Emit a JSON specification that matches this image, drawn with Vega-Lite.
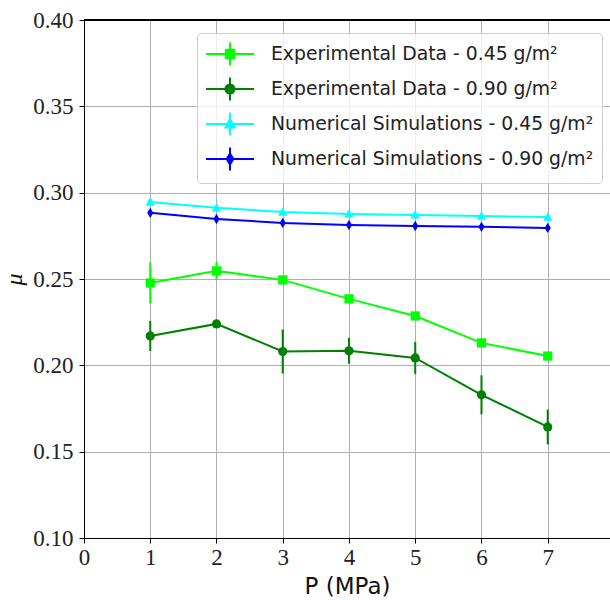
{
  "$schema": "https://vega.github.io/schema/vega-lite/v6.json",
  "autosize": {"type": "none"},
  "padding": {"left": 84, "top": 20, "right": 0, "bottom": 62},
  "width": 526,
  "height": 518,
  "background": "white",
  "config": {
    "view": {"stroke": null},
    "axis": {
      "domainColor": "black",
      "domainWidth": 1,
      "tickColor": "black",
      "tickSize": 5,
      "tickWidth": 1,
      "gridColor": "#b0b0b0",
      "gridWidth": 1,
      "labelFont": "Liberation Serif",
      "labelFontSize": 23,
      "labelColor": "#222",
      "titleColor": "#111",
      "titleFontWeight": "normal"
    },
    "legend": {
      "symbolSize": 576,
      "symbolStrokeWidth": 2,
      "labelFont": "DejaVu Sans",
      "labelFontSize": 18.8,
      "labelColor": "#222",
      "labelOffset": 40,
      "labelLimit": 400,
      "rowPadding": 3,
      "padding": 8,
      "strokeColor": "#cccccc",
      "cornerRadius": 4,
      "fillColor": "rgba(255,255,255,0.8)"
    }
  },
  "data": {
    "values": [
      {"P": 1, "mu": 0.2477, "err": 0.0119, "s": "Experimental Data - 0.45 g/m²"},
      {"P": 2, "mu": 0.2547, "err": 0.0052, "s": "Experimental Data - 0.45 g/m²"},
      {"P": 3, "mu": 0.2495, "err": 0.0, "s": "Experimental Data - 0.45 g/m²"},
      {"P": 4, "mu": 0.2385, "err": 0.0, "s": "Experimental Data - 0.45 g/m²"},
      {"P": 5, "mu": 0.2286, "err": 0.0, "s": "Experimental Data - 0.45 g/m²"},
      {"P": 6, "mu": 0.2130, "err": 0.0, "s": "Experimental Data - 0.45 g/m²"},
      {"P": 7, "mu": 0.2054, "err": 0.0, "s": "Experimental Data - 0.45 g/m²"},
      {"P": 1, "mu": 0.2170, "err": 0.0087, "s": "Experimental Data - 0.90 g/m²"},
      {"P": 2, "mu": 0.2240, "err": 0.002, "s": "Experimental Data - 0.90 g/m²"},
      {"P": 3, "mu": 0.2080, "err": 0.0127, "s": "Experimental Data - 0.90 g/m²"},
      {"P": 4, "mu": 0.2084, "err": 0.0075, "s": "Experimental Data - 0.90 g/m²"},
      {"P": 5, "mu": 0.2043, "err": 0.0093, "s": "Experimental Data - 0.90 g/m²"},
      {"P": 6, "mu": 0.1829, "err": 0.0113, "s": "Experimental Data - 0.90 g/m²"},
      {"P": 7, "mu": 0.1643, "err": 0.0101, "s": "Experimental Data - 0.90 g/m²"},
      {"P": 1, "mu": 0.2946, "err": 0.0, "s": "Numerical Simulations - 0.45 g/m²"},
      {"P": 2, "mu": 0.2912, "err": 0.0, "s": "Numerical Simulations - 0.45 g/m²"},
      {"P": 3, "mu": 0.2888, "err": 0.0, "s": "Numerical Simulations - 0.45 g/m²"},
      {"P": 4, "mu": 0.2877, "err": 0.0, "s": "Numerical Simulations - 0.45 g/m²"},
      {"P": 5, "mu": 0.2871, "err": 0.0, "s": "Numerical Simulations - 0.45 g/m²"},
      {"P": 6, "mu": 0.2865, "err": 0.0, "s": "Numerical Simulations - 0.45 g/m²"},
      {"P": 7, "mu": 0.2859, "err": 0.0, "s": "Numerical Simulations - 0.45 g/m²"},
      {"P": 1, "mu": 0.2883, "err": 0.0, "s": "Numerical Simulations - 0.90 g/m²"},
      {"P": 2, "mu": 0.2848, "err": 0.0, "s": "Numerical Simulations - 0.90 g/m²"},
      {"P": 3, "mu": 0.2825, "err": 0.0, "s": "Numerical Simulations - 0.90 g/m²"},
      {"P": 4, "mu": 0.2813, "err": 0.0, "s": "Numerical Simulations - 0.90 g/m²"},
      {"P": 5, "mu": 0.2807, "err": 0.0, "s": "Numerical Simulations - 0.90 g/m²"},
      {"P": 6, "mu": 0.2802, "err": 0.0, "s": "Numerical Simulations - 0.90 g/m²"},
      {"P": 7, "mu": 0.2796, "err": 0.0, "s": "Numerical Simulations - 0.90 g/m²"}
    ]
  },
  "encoding": {
    "x": {
      "field": "P",
      "type": "quantitative",
      "scale": {"domain": [0, 7.94], "nice": false, "zero": false},
      "axis": {
        "values": [0, 1, 2, 3, 4, 5, 6, 7],
        "format": "d",
        "grid": true,
        "title": "P (MPa)",
        "titleFont": "DejaVu Sans",
        "titleFontSize": 23,
        "titlePadding": 6,
        "labelFont": "Liberation Serif",
        "labelPadding": 3,
        "labelFlush": false
      }
    },
    "y": {
      "field": "mu",
      "type": "quantitative",
      "scale": {"domain": [0.1, 0.4], "nice": false, "zero": false},
      "axis": {
        "values": [0.1, 0.15, 0.2, 0.25, 0.3, 0.35, 0.4],
        "format": ".2f",
        "grid": true,
        "title": "μ",
        "titleFont": "Liberation Serif",
        "titleFontStyle": "italic",
        "titleFontSize": 24,
        "titlePadding": 6,
        "labelFont": "Liberation Serif",
        "labelPadding": 6
      }
    },
    "color": {
      "field": "s",
      "type": "nominal",
      "scale": {
        "domain": ["Experimental Data - 0.45 g/m²", "Experimental Data - 0.90 g/m²", "Numerical Simulations - 0.45 g/m²", "Numerical Simulations - 0.90 g/m²"],
        "range": ["#00ff00", "#007f00", "#00ffff", "#0000ff"]
      },
      "legend": {"title": null, "orient": "none", "legendX": 113, "legendY": 13}
    }
  },
  "layer": [
    {
      "transform": [{"filter": "datum.P < 0"}],
      "mark": {"type": "point", "filled": true, "opacity": 1, "strokeWidth": 2},
      "encoding": {
        "stroke": {
          "field": "s",
          "type": "nominal",
          "scale": {
            "domain": ["Experimental Data - 0.45 g/m²", "Experimental Data - 0.90 g/m²", "Numerical Simulations - 0.45 g/m²", "Numerical Simulations - 0.90 g/m²"],
            "range": ["#00ff00", "#007f00", "#00ffff", "#0000ff"]
          },
          "legend": {"title": null, "orient": "none", "legendX": 113, "legendY": 13}
        },
        "shape": {
          "field": "s",
          "type": "nominal",
          "scale": {
            "domain": ["Experimental Data - 0.45 g/m²", "Experimental Data - 0.90 g/m²", "Numerical Simulations - 0.45 g/m²", "Numerical Simulations - 0.90 g/m²"],
            "range": [
              "M-1,0L3,0M1,-0.96L1,0.96M0.65,-0.35L1.35,-0.35L1.35,0.35L0.65,0.35Z",
              "M-1,0L3,0M1,-0.96L1,0.96M0.62,0A0.38,0.38 0 1,0 1.38,0A0.38,0.38 0 1,0 0.62,0Z",
              "M-1,0L3,0M1,-0.96L1,0.96M1,-0.42L1.38,0.3L0.62,0.3Z",
              "M-1,0L3,0M1,-0.96L1,0.96M1,-0.45L1.28,0L1,0.45L0.72,0Z"
            ]
          },
          "legend": {"title": null, "orient": "none", "legendX": 113, "legendY": 13}
        }
      }
    },
    {
      "mark": {"type": "line", "strokeWidth": 2}
    },
    {
      "mark": {"type": "errorbar", "thickness": 2},
      "encoding": {
        "yError": {"field": "err"}
      }
    },
    {
      "transform": [{"filter": "datum.s == 'Experimental Data - 0.45 g/m²'"}],
      "mark": {"type": "point", "filled": true, "opacity": 1, "size": 85, "shape": "square"}
    },
    {
      "transform": [{"filter": "datum.s == 'Experimental Data - 0.90 g/m²'"}],
      "mark": {"type": "point", "filled": true, "opacity": 1, "size": 85, "shape": "circle"}
    },
    {
      "transform": [{"filter": "datum.s == 'Numerical Simulations - 0.45 g/m²'"}],
      "mark": {"type": "point", "filled": true, "opacity": 1, "size": 95, "shape": "M0,-1L0.95,0.75L-0.95,0.75Z"}
    },
    {
      "transform": [{"filter": "datum.s == 'Numerical Simulations - 0.90 g/m²'"}],
      "mark": {"type": "point", "filled": true, "opacity": 1, "size": 90, "shape": "M0,-1.1L0.65,0L0,1.1L-0.65,0Z"}
    },
    {
      "mark": {"type": "rule", "color": "black", "strokeWidth": 1},
      "encoding": {"y": {"datum": 0.4}, "x": null, "color": null}
    }
  ]
}
